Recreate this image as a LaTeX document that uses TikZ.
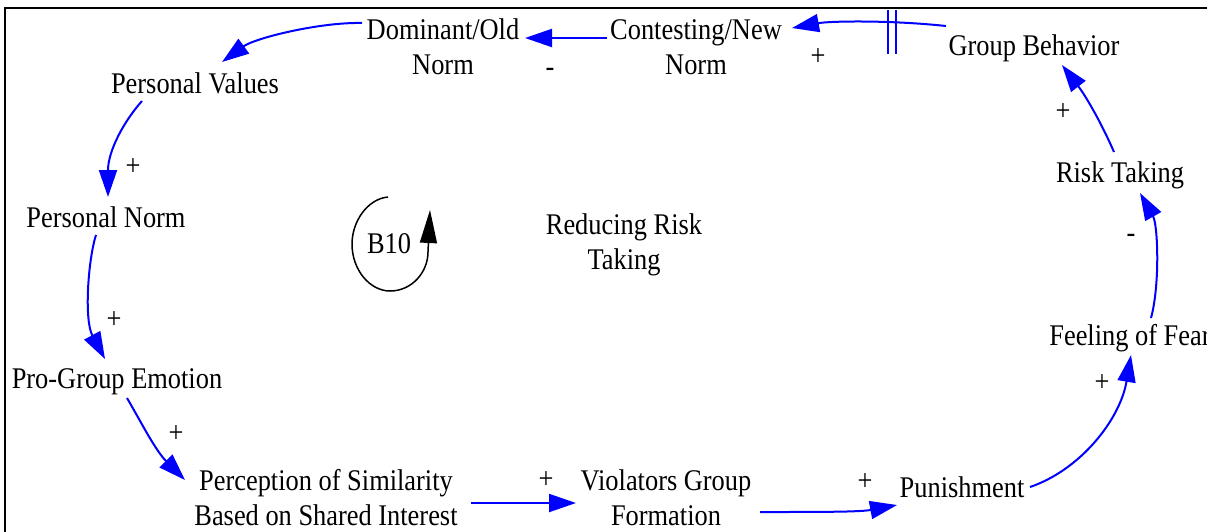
\documentclass[tikz,border=0pt]{standalone}
\usepackage{fontspec}
\setmainfont{Liberation Serif}[FakeStretch=0.88]
\usetikzlibrary{arrows.meta,calc}
\begin{document}
\begin{tikzpicture}[x=1pt,y=-1pt,
  var/.style={anchor=base, inner sep=0pt, align=center,
    font=\fontsize{30}{35}\selectfont},
  pol/.style={inner sep=0pt, font=\fontsize{30}{35}\selectfont},
  link/.style={draw=blue, line width=2pt,
    -{Triangle[length=27pt,width=18pt]}},
  loopmark/.style={draw=black, line width=1.5pt,
    -{Triangle[length=33pt,width=17pt]}}
]
\useasboundingbox (0,0) rectangle (1207,531);

% frame
\draw[line width=2pt] (5,545) -- (5,8) -- (1220,8);

% variables (base anchor = baseline of the last line)
\node[var] (dom)  at (443,74)  {Dominant/Old\\Norm};
\node[var] (con)  at (696,74)  {Contesting/New\\Norm};
\node[var] (gb)   at (1034,55) {Group Behavior};
\node[var] (pv)   at (195,93)  {Personal Values};
\node[var] (pn)   at (106,227) {Personal Norm};
\node[var] (pg)   at (117,388) {Pro-Group Emotion};
\node[var] (per)  at (326,525) {Perception of Similarity\\Based on Shared Interest};
\node[var] (vio)  at (666,525) {Violators Group\\Formation};
\node[var] (pun)  at (962,497) {Punishment};
\node[var] (fear) at (1130,345) {Feeling of Fear};
\node[var] (risk) at (1120,182) {Risk Taking};
\node[var] (red)  at (624,269) {Reducing Risk\\Taking};
\node[var] (b10)  at (389,253) {B10};

% causal links
\draw[link] ($(gb.base)+(-88,-29)$) .. controls (890,20) and (830,21) .. ($(con.base)+(96,-46)$);
\draw[link] ($(con.base)+(-89,-36)$) -- ($(dom.base)+(82,-36)$);
\draw[link] ($(dom.base)+(-81,-51)$) .. controls (320,22) and (255,38) .. ($(pv.base)+(27,-31)$);
\draw[link] ($(pv.base)+(-53,8)$) .. controls (125,120) and (108,150) .. ($(pn.base)+(2,-30)$);
\draw[link] ($(pn.base)+(-10,8)$) .. controls (88,260) and (84,320) .. ($(pg.base)+(-12,-29)$);
\draw[link] ($(pg.base)+(10,10)$) .. controls (140,420) and (155,450) .. ($(per.base)+(-141,-45)$);
\draw[link] ($(per.base)+(145,-22)$) -- ($(vio.base)+(-90,-22)$);
\draw[link] ($(vio.base)+(94,-13)$) .. controls (820,512) and (860,512) .. ($(pun.base)+(-65,8)$);
\draw[link] ($(pun.base)+(68,-10)$) .. controls (1080,470) and (1120,420) .. ($(fear.base)+(1,10)$);
\draw[link] ($(fear.base)+(21,-27)$) .. controls (1160,285) and (1158,225) .. ($(risk.base)+(20,11)$);
\draw[link] ($(risk.base)+(-6,-30)$) .. controls (1100,120) and (1085,95) .. ($(gb.base)+(28,10)$);

% delay mark
\draw[blue, line width=1.5pt] (888,10) -- (888,54) (896,10) -- (896,54);

% loop symbol
\draw[loopmark] ($(b10.base)+(-1,-56)$) .. controls (367,199) and (352,222) .. (352,244)
  .. controls (352,270) and (370,291) .. (390,291)
  .. controls (412,291) and (428,272) .. (428,252) -- ($(b10.base)+(41,-43)$);

% polarities
\node[pol] (p1)  at (550,72)   {-};
\node[pol] (p2)  at (818,57)   {+};
\node[pol] (p3)  at (1063,112) {+};
\node[pol] (p4)  at (1131,238) {-};
\node[pol] (p5)  at (1102,383) {+};
\node[pol] (p6)  at (865,482)  {+};
\node[pol] (p7)  at (546,480)  {+};
\node[pol] (p8)  at (176,434)  {+};
\node[pol] (p9)  at (114,320)  {+};
\node[pol] (p10) at (133,167)  {+};
\end{tikzpicture}
\end{document}
